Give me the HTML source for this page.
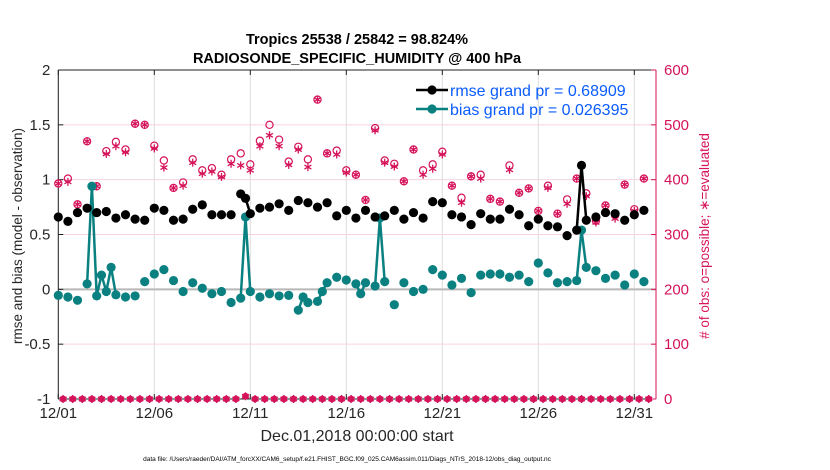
<!DOCTYPE html>
<html><head><meta charset="utf-8"><style>
body{margin:0;background:#fff;width:830px;height:470px;overflow:hidden}
svg{display:block;font-family:"Liberation Sans",Arial,sans-serif}
</style></head><body>
<svg id="chart" width="830" height="470"></svg>
<script>
// 6-hour index (0 = Dec 01 00:00)
const rmseIdx=[0,2,4,6,8,10,12,14,16,18,20,22,24,26,28,30,32,34,36,38,39,40,42,44,46,48,50,52,54,56,58,60,62,64,66,68,70,72,74,76,78,80,82,84,86,88,90,92,94,96,98,100,102,104,106,108,109,110,112,114,116,118,120,122];
const rmseVal=[0.66,0.62,0.70,0.74,0.70,0.71,0.65,0.68,0.64,0.63,0.74,0.72,0.63,0.64,0.73,0.77,0.68,0.68,0.68,0.87,0.83,0.69,0.74,0.75,0.78,0.72,0.81,0.79,0.75,0.79,0.67,0.72,0.65,0.72,0.66,0.67,0.72,0.64,0.70,0.65,0.80,0.79,0.68,0.66,0.59,0.69,0.64,0.64,0.73,0.68,0.58,0.64,0.58,0.57,0.49,0.54,1.13,0.63,0.66,0.70,0.69,0.63,0.68,0.72];
const biasIdx=[0,2,4,6,7,8,9,10,11,12,14,16,18,20,22,24,26,28,30,32,34,36,38,39,40,42,44,46,48,50,51,52,54,55,56,58,60,62,63,64,66,67,68,70,72,74,76,78,80,82,84,86,88,90,92,94,96,98,100,102,104,106,108,109,110,112,114,116,118,120,122];
const biasVal=[-0.055,-0.07,-0.10,0.05,0.94,-0.06,0.13,-0.02,0.20,-0.05,-0.07,-0.06,0.07,0.14,0.18,0.08,-0.02,0.06,0.01,-0.04,-0.02,-0.12,-0.08,0.66,-0.02,-0.07,-0.04,-0.06,-0.055,-0.19,-0.07,-0.12,-0.11,-0.02,0.06,0.11,0.085,0.05,-0.04,0.06,0.03,0.65,0.07,-0.14,0.06,-0.02,0.0,0.18,0.13,0.04,0.10,-0.03,0.13,0.14,0.14,0.11,0.13,0.07,0.24,0.15,0.06,0.07,0.08,0.54,0.20,0.17,0.10,0.13,0.04,0.14,0.07];
const obsIdx=[0,2,4,6,8,10,12,14,16,18,20,22,24,26,28,30,32,34,36,38,40,42,44,46,48,50,52,54,56,58,60,62,64,66,68,70,72,74,76,78,80,82,84,86,88,90,92,94,96,98,100,102,104,106,108,110,112,114,116,118,120,122];
const possVal=[393,402,355,470,388,452,469,455,502,500,462,435,385,395,437,417,421,409,437,448,428,471,500,473,433,460,437,546,448,453,417,409,363,494,435,429,397,455,417,428,451,389,367,406,409,365,360,426,376,384,343,389,338,364,402,375,325,353,335,391,346,402];
const evalVal=[393,396,355,470,388,447,461,450,502,500,457,422,385,389,431,411,415,405,429,426,417,461,481,461,427,455,423,546,448,446,413,409,363,490,431,424,397,455,409,420,446,389,358,406,402,365,360,418,376,384,343,385,338,356,402,370,322,353,329,391,343,402];
const zeroIdx=[1,3,5,7,9,11,13,15,17,19,21,23,25,27,29,31,33,35,37,39,41,43,45,47,49,51,53,55,57,59,61,63,65,67,69,71,73,75,77,79,81,83,85,87,89,91,93,95,97,99,101,103,105,107,109,111,113,115,117,119,121,123];
const zeroVal=zeroIdx.map(i=>i===39?5:0);
const xTickLabels=["12/01","12/06","12/11","12/16","12/21","12/26","12/31"];
const yTicks=[2,1.5,1,0.5,0,-0.5,-1];
const rTicks=[600,500,400,300,200,100,0];

const L=58.3,R=656,T=70,B=399;
const X=i=>L+i*4.8;
const Y=v=>T+(2-v)*(B-T)/3;
const YR=n=>B-n*(B-T)/600;
const NS="http://www.w3.org/2000/svg";
const svg=document.getElementById('chart');
function mk(tag,attrs,parent){const e=document.createElementNS(NS,tag);for(const k in attrs)e.setAttribute(k,attrs[k]);(parent||svg).appendChild(e);return e;}
const MAG="#d5135a",TEAL="#0a8080";

const grid=mk('g',{});


xTickLabels.forEach((t,k)=>{const x=X(k*20);mk('line',{x1:x,x2:x,y1:T,y2:B,stroke:'#dcdcdc','stroke-width':1},grid);});
rTicks.forEach(n=>{if(n>0&&n<600)mk('line',{x1:L,x2:R,y1:YR(n),y2:YR(n),stroke:'#f6d3df','stroke-width':1},grid);});
mk('line',{x1:L,x2:R,y1:Y(0),y2:Y(0),stroke:'#b8b8b8','stroke-width':2},grid);

const ax=mk('g',{});


mk('line',{x1:L,x2:L,y1:T,y2:B,stroke:'#222'},ax);
mk('line',{x1:L,x2:R,y1:T,y2:T,stroke:'#222'},ax);
mk('line',{x1:L,x2:R,y1:B,y2:B,stroke:'#222'},ax);
mk('line',{x1:R,x2:R,y1:T,y2:B,stroke:MAG},ax);
yTicks.forEach(v=>{mk('line',{x1:L,x2:L+5,y1:Y(v),y2:Y(v),stroke:'#222'},ax);
 const t=mk('text',{x:L-8,y:Y(v)+5,'text-anchor':'end','font-size':15,fill:'#262626'},ax);t.textContent=String(v);
 });
rTicks.forEach(n=>{mk('line',{x1:R-5,x2:R,y1:YR(n),y2:YR(n),stroke:MAG},ax);
 const t=mk('text',{x:R+8,y:YR(n)+5,'font-size':15,fill:MAG},ax);t.textContent=String(n);
 });
xTickLabels.forEach((s,k)=>{const x=X(k*20);mk('line',{x1:x,x2:x,y1:B,y2:B-5,stroke:'#222'},ax);mk('line',{x1:x,x2:x,y1:T,y2:T+5,stroke:'#222'},ax);
 const t=mk('text',{x:x,y:B+19,'text-anchor':'middle','font-size':15,fill:'#262626'},ax);t.textContent=s;
 });

const cg=mk('g',{});


function ast(x,y,g){for(let a=0;a<3;a++){const ang=a*Math.PI/3+Math.PI/2;mk('line',{x1:x-4*Math.cos(ang),y1:y-4*Math.sin(ang),x2:x+4*Math.cos(ang),y2:y+4*Math.sin(ang),stroke:MAG,'stroke-width':1.3},g);}}
obsIdx.forEach((i,k)=>{const x=X(i);
 mk('circle',{cx:x,cy:YR(possVal[k]),r:3.6,fill:'none',stroke:MAG,'stroke-width':1.2},cg);
 ast(x,YR(evalVal[k]),cg);});
zeroIdx.forEach((i,k)=>{const x=X(i),y=YR(zeroVal[k]);mk('circle',{cx:x,cy:y,r:3.4,fill:MAG},cg);ast(x,y,cg);});

function series(idx,val,color,name){
 const g=mk('g',{});
 
 
 for(let k=1;k<idx.length;k++){if(idx[k]-idx[k-1]===1)mk('line',{x1:X(idx[k-1]),y1:Y(val[k-1]),x2:X(idx[k]),y2:Y(val[k]),stroke:color,'stroke-width':2.5},g);}
 idx.forEach((i,k)=>mk('circle',{cx:X(i),cy:Y(val[k]),r:4.6,fill:color},g));
}
series(biasIdx,biasVal,TEAL,'bias-series');
series(rmseIdx,rmseVal,'#000','rmse-series');

const lg=mk('g',{});


[['#000','rmse grand pr = 0.68909',90],[TEAL,'bias grand pr = 0.026395',109]].forEach(([c,s,y])=>{
 mk('line',{x1:416,x2:448,y1:y,y2:y,stroke:c,'stroke-width':2.5},lg);mk('circle',{cx:432,cy:y,r:4.6,fill:c},lg);
 const t=mk('text',{x:450,y:y+6,'font-size':16,fill:'#0b5cff'},lg);t.textContent=s;
 });

function txt(s,attrs,name){const t=mk('text',attrs);t.textContent=s;}
txt('Tropics 25538 / 25842 = 98.824%',{x:357,y:44,'text-anchor':'middle','font-size':14.5,'font-weight':'bold',fill:'#000'},'title-line-1');
txt('RADIOSONDE_SPECIFIC_HUMIDITY @ 400 hPa',{x:357,y:63,'text-anchor':'middle','font-size':14.5,'font-weight':'bold',fill:'#000'},'title-line-2');
txt('rmse and bias (model - observation)',{x:0,y:0,'text-anchor':'middle','font-size':13.5,fill:'#262626',transform:'translate(22,236) rotate(-90)'},'y-axis-title');
txt('# of obs: o=possible; \u2217=evaluated',{x:0,y:0,'text-anchor':'middle','font-size':13.5,fill:MAG,transform:'translate(709,236) rotate(-90)'},'right-axis-title');
txt('Dec.01,2018 00:00:00 start',{x:357,y:441,'text-anchor':'middle','font-size':16,fill:'#262626'},'x-axis-title');
txt('data file: /Users/raeder/DAI/ATM_forcXX/CAM6_setup/f.e21.FHIST_BGC.f09_025.CAM6assim.011/Diags_NTrS_2018-12/obs_diag_output.nc',{x:347,y:461,'text-anchor':'middle','font-size':6.5,fill:'#000'},'data-file-note');
</script>
</body></html>
